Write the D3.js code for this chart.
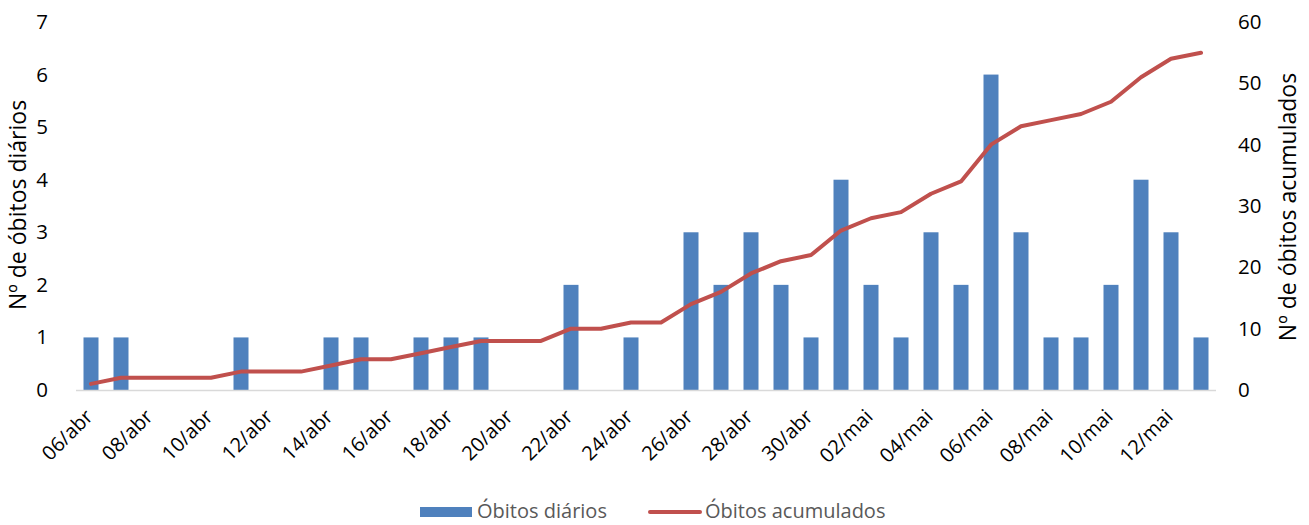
<!DOCTYPE html>
<html><head><meta charset="utf-8">
<script src="https://cdn.jsdelivr.net/npm/d3@7"></script>
<style>body{margin:0;background:#fff;} text{font-family:"Open Sans", sans-serif;}</style>
</head><body>
<svg id="c" width="1309" height="525"></svg>
<script>
const dates = ["06/abr","07/abr","08/abr","09/abr","10/abr","11/abr","12/abr","13/abr","14/abr","15/abr","16/abr","17/abr","18/abr","19/abr","20/abr","21/abr","22/abr","23/abr","24/abr","25/abr","26/abr","27/abr","28/abr","29/abr","30/abr","01/mai","02/mai","03/mai","04/mai","05/mai","06/mai","07/mai","08/mai","09/mai","10/mai","11/mai","12/mai","13/mai"];
const daily = [1,1,0,0,0,1,0,0,1,1,0,1,1,1,0,0,2,0,1,0,3,2,3,2,1,4,2,1,3,2,6,3,1,1,2,4,3,1];
const cumulative = [1,2,2,2,2,3,3,3,4,5,5,6,7,8,8,8,10,10,11,11,14,16,19,21,22,26,28,29,32,34,40,43,44,45,47,51,54,55];
const leftTicks = [0,1,2,3,4,5,6,7];
const rightTicks = [0,10,20,30,40,50,60];
const tickLabels = dates.filter((d,i)=>i%2===0);

const svg = d3.select("#c");
const L=76, R=1216, T=22, B=390;
const FF = '"Open Sans", sans-serif';
const x = d3.scaleBand().domain(dates).range([L,R]).paddingInner(0.5).paddingOuter(0.25);
const yL = d3.scaleLinear().domain([0,7]).range([B,T]);
const yR = d3.scaleLinear().domain([0,60]).range([B,T]);
const cx = d => x(d)+x.bandwidth()/2;

// bars
svg.append("g").selectAll("rect").data(dates).join("rect")
  .attr("x", d=>cx(d)-7.5).attr("width",15)
  .attr("y",(d,i)=>yL(daily[i])).attr("height",(d,i)=>B-yL(daily[i]))
  .attr("fill","#4F81BD");

// baseline
svg.append("line").attr("x1",L).attr("x2",R).attr("y1",B+0.5).attr("y2",B+0.5).attr("stroke","#D9D9D9").attr("stroke-width",1.5);

// line
svg.append("path").datum(cumulative)
  .attr("d", d3.line().x((v,i)=>cx(dates[i])).y(v=>yR(v)))
  .attr("fill","none").attr("stroke","#C0504D").attr("stroke-width",4).attr("stroke-linecap","round").attr("stroke-linejoin","round");

// left axis
const gl = svg.append("g").attr("transform",`translate(${L},0)`).call(d3.axisLeft(yL).tickValues(leftTicks).tickFormat(d3.format("d")).tickSize(0).tickPadding(28));
gl.select(".domain").remove();
gl.selectAll("text").attr("font-size",20.5).attr("fill","#000").style("font-family",FF);
// right axis
const gr = svg.append("g").attr("transform",`translate(${R},0)`).call(d3.axisRight(yR).tickValues(rightTicks).tickFormat(d3.format("d")).tickSize(0).tickPadding(22));
gr.select(".domain").remove();
gr.selectAll("text").attr("font-size",20.5).attr("fill","#000").style("font-family",FF);

// x labels
svg.append("g").selectAll("text").data(tickLabels).join("text")
  .attr("transform", d=>`translate(${cx(d)+3},${B+28}) rotate(-45)`)
  .attr("text-anchor","end").attr("font-size",20).attr("fill","#000")
  .text(d=>d);

// axis titles
svg.append("text").attr("transform",`translate(26,205) rotate(-90)`).attr("text-anchor","middle").attr("font-size",23).text("Nº de óbitos diários");
svg.append("text").attr("transform",`translate(1296,207) rotate(-90)`).attr("text-anchor","middle").attr("font-size",23).text("Nº de óbitos acumulados");

// legend
const lg = svg.append("g");
lg.append("rect").attr("x",420).attr("y",507).attr("width",52).attr("height",10).attr("fill","#4F81BD");
lg.append("text").attr("x",477).attr("y",518).attr("font-size",20).attr("fill","#595959").text("Óbitos diários");
lg.append("line").attr("x1",650).attr("x2",700).attr("y1",512).attr("y2",512).attr("stroke","#C0504D").attr("stroke-width",4).attr("stroke-linecap","round");
lg.append("text").attr("x",705).attr("y",518).attr("font-size",20).attr("fill","#595959").text("Óbitos acumulados");
</script>
</body></html>
